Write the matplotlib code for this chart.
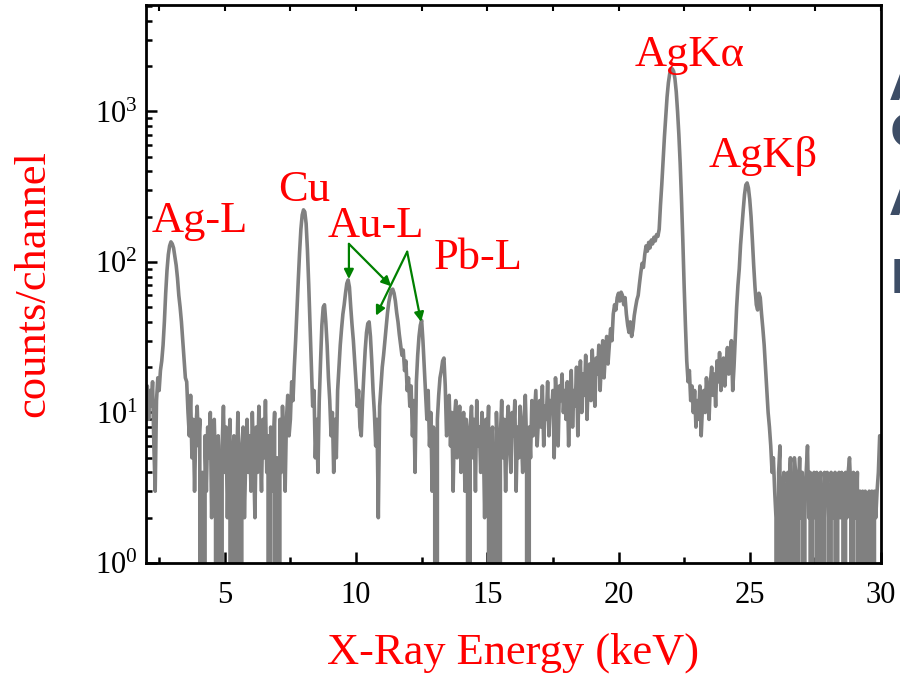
import numpy as np
import matplotlib
matplotlib.use('Agg')
import matplotlib.pyplot as plt
from matplotlib.ticker import MultipleLocator, LogLocator, NullFormatter

# spectrum: counts per channel, channels of 0.05 keV starting at 2.00 keV
ENERGY_START = 2.0
CHANNEL_WIDTH = 0.05

# 2.00 - 3.95 keV (Ag-L)
ag_l_counts = [12, 15, 9, 14, 11, 16, 6, 3, 12, 17,
               14, 19, 22, 28, 40, 62, 88, 112, 128, 136,
               132, 124, 108, 95, 78, 60, 50, 40, 30, 22,
               17, 16, 10, 7, 13, 5, 9, 3, 8, 11]
# 4.00 - 7.45 keV
low_floor_counts = [6, 9, 0, 4, 0, 7, 3, 8, 5, 10,
                    2, 6, 9, 4, 0, 7, 3, 0, 6, 11,
                    4, 8, 2, 6, 9, 0, 5, 7, 0, 4,
                    10, 3, 0, 6, 8, 2, 5, 9, 4, 7,
                    3, 10, 5, 2, 8, 4, 11, 6, 3, 9,
                    5, 12, 4, 7, 0, 8, 3, 6, 10, 0,
                    5, 0, 9, 4, 11, 6, 3, 9, 13, 7]
# 7.50 - 9.45 keV (Cu)
cu_counts = [9, 16, 12, 20, 30, 48, 75, 115, 165, 205,
             222, 215, 180, 120, 70, 38, 20, 11, 14, 5,
             9, 4, 12, 22, 38, 50, 52, 40, 28, 17,
             12, 7, 10, 4, 9, 5, 14, 20, 28, 36]
# 9.50 - 13.45 keV (Au-L, Pb-L)
au_pb_counts = [45, 52, 62, 72, 76, 68, 50, 38, 30, 22,
                16, 11, 14, 8, 7, 12, 18, 26, 34, 39,
                40, 32, 22, 14, 10, 6, 9, 2, 11, 15,
                20, 24, 30, 38, 46, 54, 60, 65, 66, 62,
                55, 46, 40, 33, 28, 24, 26, 19, 22, 14,
                17, 11, 15, 7, 12, 4, 16, 24, 32, 38,
                41, 30, 20, 13, 9, 14, 6, 10, 3, 8,
                5, 0, 9, 13, 17, 19, 22, 23, 15, 7]
# 13.50 - 17.95 keV
mid_floor_counts = [8, 13, 6, 10, 3, 9, 12, 5, 8, 11,
                    4, 7, 10, 3, 9, 6, 0, 8, 11, 5,
                    9, 3, 12, 6, 8, 4, 10, 7, 2, 9,
                    5, 11, 0, 6, 8, 3, 0, 10, 4, 0,
                    7, 12, 5, 9, 3, 8, 11, 6, 4, 10,
                    7, 12, 3, 8, 5, 11, 7, 4, 9, 13,
                    6, 0, 8, 5, 12, 7, 10, 14, 6, 9,
                    12, 8, 15, 6, 11, 9, 16, 7, 12, 10,
                    14, 5, 17, 11, 6, 15, 12, 18, 10, 14]
# 18.00 - 25.95 keV (Ag-K)
ag_k_counts = [9, 16, 6, 13, 19, 8, 14, 11, 20, 7,
               15, 22, 10, 18, 13, 24, 9, 17, 21, 12,
               26, 16, 11, 23, 18, 28, 14, 22, 30, 17,
               25, 32, 21, 28, 36, 30, 45, 52, 48, 58,
               62, 55, 63, 60, 52, 58, 45, 38, 34, 40,
               32, 36, 44, 50, 56, 60, 72, 85, 98, 92,
               112, 128, 118, 135, 124, 140, 132, 146, 138, 152,
               148, 165, 240, 330, 480, 680, 920, 1250, 1550, 1780,
               1900, 1920, 1850, 1650, 1350, 1000, 700, 450, 260, 140,
               70, 38, 22, 16, 19, 12, 15, 10, 14, 8,
               12, 9, 15, 7, 11, 14, 10, 17, 12, 9,
               16, 20, 13, 18, 11, 22, 16, 25, 14, 19,
               23, 15, 21, 27, 18, 24, 30, 14, 20, 32,
               50, 70, 90, 130, 170, 220, 280, 325, 335, 310,
               260, 200, 140, 95, 68, 52, 48, 62, 58, 45,
               36, 28, 20, 14, 10, 8, 6, 4, 5, 3]
# 26.00 - 30.00 keV
high_floor_counts = [2, 0, 4, 6, 0, 3, 4, 2, 0, 4,
                     3, 5, 0, 2, 5, 4, 0, 3, 5, 2,
                     4, 0, 3, 4, 6, 2, 4, 0, 3, 4,
                     2, 4, 0, 3, 4, 2, 0, 4, 3, 4,
                     2, 0, 4, 3, 2, 4, 0, 3, 4, 2,
                     4, 3, 0, 4, 2, 4, 5, 3, 0, 4,
                     3, 2, 4, 0, 3, 2, 3, 0, 3, 2,
                     0, 3, 2, 3, 0, 3, 2, 3, 4, 7,
                     7]

# peak labels: text, energy, counts (baseline)
peak_labels = [('Ag-L', 4.05, 158), ('Cu', 8.02, 254), ('Au-L', 10.76, 147),
               ('Pb-L', 14.64, 90), ('AgK\u03b1', 22.71, 1995),
               ('AgK\u03b2', 25.52, 430)]
# green arrows: (from energy, from counts) -> (to energy, to counts)
arrows = [((9.73, 132), (9.73, 77)), ((9.73, 132), (11.34, 69)),
          ((11.95, 117), (10.76, 44)), ((11.95, 117), (12.48, 40))]


def creer_graphe():
    plt.rcParams['font.family'] = 'Liberation Serif'
    plt.rcParams['mathtext.fontset'] = 'custom'
    plt.rcParams['mathtext.rm'] = 'Liberation Serif'

    counts = np.array(ag_l_counts + low_floor_counts + cu_counts + au_pb_counts
                      + mid_floor_counts + ag_k_counts + high_floor_counts, dtype=float)
    energy = ENERGY_START + CHANNEL_WIDTH * np.arange(len(counts))

    fig = plt.figure(figsize=(9, 6.79), dpi=100)
    ax = fig.add_axes([146 / 900, 1 - 563 / 679, 735 / 900, 558 / 679])
    ax.plot(energy, counts, color='#808080', lw=2.6)
    ax.set_yscale('log', nonpositive='clip')
    ax.set_xlim(2, 30)
    ax.set_ylim(1, 5100)

    ax.xaxis.set_major_locator(MultipleLocator(5))
    ax.xaxis.set_minor_locator(MultipleLocator(2.5))
    ax.yaxis.set_major_locator(LogLocator(base=10, numticks=10))
    ax.yaxis.set_minor_locator(LogLocator(base=10, subs=np.arange(2, 10), numticks=10))
    ax.yaxis.set_minor_formatter(NullFormatter())
    ax.tick_params(which='both', direction='in', width=1.8, labelsize=22,
                   top=False, right=False)
    ax.tick_params(which='major', length=8, pad=6)
    ax.tick_params(which='minor', length=4.5)
    ax.tick_params(axis='x', which='major', pad=13)
    for s in ax.spines.values():
        s.set_linewidth(2)

    top = ax.secondary_xaxis('top')
    top.xaxis.set_major_locator(MultipleLocator(2.5))
    top.tick_params(direction='in', length=4, width=1.5, labeltop=False)

    ax.set_xlabel('X-Ray Energy (keV)', color='red', fontsize=32, labelpad=16)
    ax.set_ylabel('counts/channel', color='red', fontsize=32, labelpad=30)

    for txt, x, y in peak_labels:
        ax.text(x, y, txt, color='red', fontsize=32, ha='center', va='baseline')
    for (x0, y0), (x1, y1) in arrows:
        ax.annotate('', xy=(x1, y1), xytext=(x0, y0),
                    arrowprops=dict(arrowstyle='-|>', color='green', lw=1.6,
                                    mutation_scale=14, shrinkA=0, shrinkB=0))

    # bits of the next slide's title, cut by the right edge
    for lettre, yy in [('A', 65), ('C', 112), ('A', 180), ('I', 258)]:
        fig.text(890 / 900, 1 - yy / 679, lettre, color='#3d4d66', fontsize=34,
                 fontweight='bold', family='DejaVu Sans', ha='left', va='top')

    fig.savefig('out.png', dpi=100)


if __name__ == '__main__':
    creer_graphe()
